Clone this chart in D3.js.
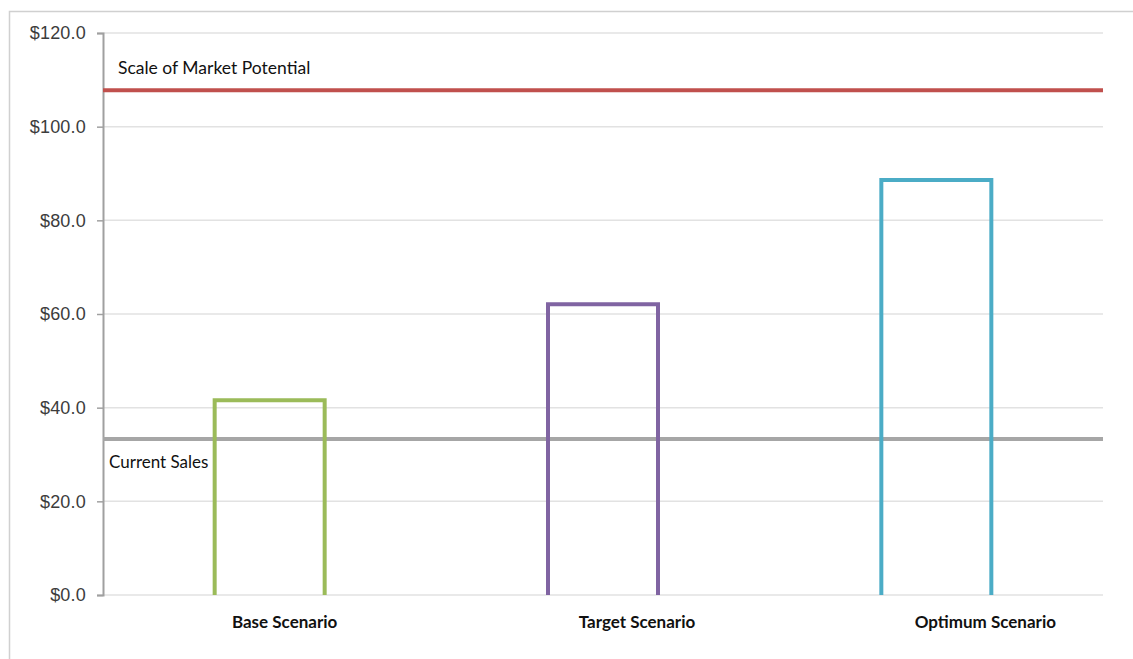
<!DOCTYPE html>
<html>
<head>
<meta charset="utf-8">
<script src="https://cdn.jsdelivr.net/npm/d3@7"></script>
<style>
  html, body { margin: 0; padding: 0; background: #fff; }
  svg { display: block; }
</style>
</head>
<body>
<svg id="chart" width="1133" height="659"></svg>
<script>
// Scenario revenue figures ($)
const scenarios = ["Base Scenario", "Target Scenario", "Optimum Scenario"];
const scenarioValues = [41.6, 62.1, 88.6];
const scenarioColors = ["#9bbb59", "#8064a2", "#4bacc6"];

// Reference lines
const refLabels = ["Scale of Market Potential", "Current Sales"];
const refValues = [107.8, 33.3];
const refColors = ["#c0504d", "#a6a6a6"];

// Y axis ticks
const yTicks = [0, 20, 40, 60, 80, 100, 120];

const svg = d3.select("#chart");
const W = 1133, H = 659;
const m = { left: 103, right: 30, top: 33, bottom: 64 };
const textFont = "Lato, 'Open Sans', sans-serif";

// outer frame
svg.append("path")
  .attr("d", `M9.5,${H} V11.5 H${W}`)
  .attr("fill", "none").attr("stroke", "#d0d0d0").attr("stroke-width", 1.5);

const x = d3.scaleBand().domain(scenarios).range([m.left, W - m.right]).paddingInner(0).paddingOuter(0);
const y = d3.scaleLinear().domain([0, 120]).range([H - m.bottom, m.top]);

// gridlines
svg.append("g").selectAll("line").data(yTicks).join("line")
  .attr("x1", m.left).attr("x2", W - m.right)
  .attr("y1", d => y(d)).attr("y2", d => y(d))
  .attr("stroke", "#e2e2e2").attr("stroke-width", 1.5);

// y axis
const yAxis = svg.append("g").attr("transform", `translate(${m.left},0)`)
  .call(d3.axisLeft(y).tickValues(yTicks).tickSize(6).tickPadding(11)
    .tickFormat(d => "$" + d3.format(".1f")(d)));
yAxis.select(".domain").attr("stroke", "#a0a0a0").attr("stroke-width", 2);
yAxis.selectAll(".tick line").attr("stroke", "#a0a0a0").attr("stroke-width", 1.5);
yAxis.selectAll(".tick text")
  .attr("fill", "#3c3c3c").attr("font-family", "'Liberation Sans', Arial, sans-serif")
  .attr("font-size", 18).attr("letter-spacing", 0.2);

// reference lines
svg.append("g").selectAll("line").data(refValues).join("line")
  .attr("x1", m.left).attr("x2", W - m.right)
  .attr("y1", d => y(d)).attr("y2", d => y(d))
  .attr("stroke", (d, i) => refColors[i]).attr("stroke-width", 4);

// reference labels: market potential sits above its line, current sales below
svg.append("text")
  .attr("x", m.left + 15).attr("y", y(refValues[0]) - 16)
  .attr("font-family", textFont).attr("font-size", 17.5)
  .attr("fill", "#111").text(refLabels[0]);
svg.append("text")
  .attr("x", m.left + 6).attr("y", y(refValues[1]) + 29)
  .attr("font-family", textFont).attr("font-size", 17)
  .attr("fill", "#111").text(refLabels[1]);

// open-bottom outlined bars
const barW = x.bandwidth() * 0.33;
svg.append("g").selectAll("path").data(scenarios).join("path")
  .attr("d", (d, i) => {
    const cx = x(d) + x.bandwidth() / 2;
    const x0 = cx - barW / 2, x1 = cx + barW / 2;
    return `M${x0},${y(0)} V${y(scenarioValues[i])} H${x1} V${y(0)}`;
  })
  .attr("fill", "none")
  .attr("stroke", (d, i) => scenarioColors[i])
  .attr("stroke-width", 4)
  .attr("stroke-linejoin", "miter");

// category labels
const labelNudge = [15, 34, 49];
svg.append("g").selectAll("text").data(scenarios).join("text")
  .attr("x", (d, i) => x(d) + x.bandwidth() / 2 + labelNudge[i])
  .attr("y", y(0) + 33)
  .attr("text-anchor", "middle")
  .attr("font-family", textFont)
  .attr("font-weight", 700).attr("font-size", 17).attr("fill", "#111")
  .text(d => d);
</script>
</body>
</html>
